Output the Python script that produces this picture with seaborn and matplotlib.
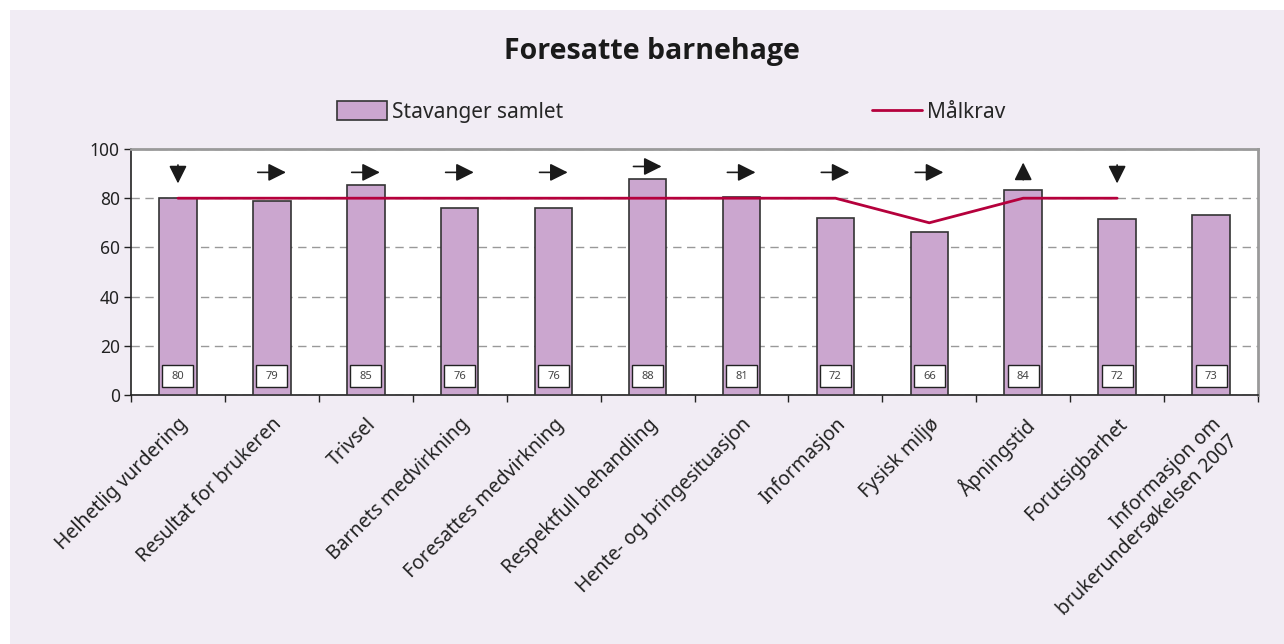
import numpy as np
import pandas as pd
import matplotlib
matplotlib.use("Agg")
import matplotlib.pyplot as plt
import seaborn as sns
from matplotlib.patches import Patch, Rectangle
from matplotlib.lines import Line2D

# Data
categories = ['Helhetlig vurdering', 'Resultat for brukeren', 'Trivsel',
              'Barnets medvirkning', 'Foresattes medvirkning',
              'Respektfull behandling', 'Hente- og bringesituasjon',
              'Informasjon', 'Fysisk miljø', 'Åpningstid', 'Forutsigbarhet',
              'Informasjon om\nbrukerundersøkelsen 2007']
stavanger = [79.9, 78.7, 85.5, 76.0, 76.2, 87.9, 80.6, 72.1, 66.1, 83.5, 71.7, 73.2]
labels = [80, 79, 85, 76, 76, 88, 81, 72, 66, 84, 72, 73]
malkrav = [80, 80, 80, 80, 80, 80, 80, 80, 70, 80, 80, None]
trend = ['down', 'right', 'right', 'right', 'right', 'right', 'right',
         'right', 'right', 'up', 'down', None]

bg = '#F1ECF4'
bar_color = '#CBA6CF'
line_color = '#B5003C'

sns.set_theme(style='white')
plt.rcParams['font.family'] = ['Noto Sans', 'DejaVu Sans']

fig = plt.figure(figsize=(12.84, 6.44), dpi=100)
fig.patch.set_facecolor('white')
# lavender panel, white margin top/left
fig.patches.append(plt.Rectangle((10 / 1284, 0), 1, 1 - 10 / 644,
                                 transform=fig.transFigure, facecolor=bg,
                                 edgecolor='none', zorder=-10))

ax = fig.add_axes([131 / 1284, 1 - 395 / 644, (1258 - 131) / 1284, (395 - 149) / 644])
ax.set_facecolor('white')

df = pd.DataFrame({'kategori': categories, 'verdi': stavanger})
sns.barplot(data=df, x='kategori', y='verdi', color=bar_color, width=0.4,
            edgecolor='#333333', linewidth=1.2, saturation=1, ax=ax, zorder=3)

x = np.arange(len(categories))
mk = np.array([np.nan if v is None else v for v in malkrav], dtype=float)
ax.plot(x, mk, color=line_color, lw=2, zorder=4)

# value boxes
box_w, box_h, box_y = 0.33, 8.9, 7.7
for xi, lab in zip(x, labels):
    ax.add_patch(Rectangle((xi - box_w / 2, box_y - box_h / 2), box_w, box_h,
                           facecolor='white', edgecolor='#222222', lw=1,
                           zorder=5))
    ax.text(xi, box_y, str(lab), ha='center', va='center', fontsize=8,
            color='#444444', zorder=6)

# trend arrows
for xi, v, d in zip(x, stavanger, trend):
    if d is None:
        continue
    y = max(90.5, v + 5)
    props = dict(arrowstyle='-|>,head_length=0.9,head_width=0.45',
                 color='#1a1a1a', lw=1.2, shrinkA=0, shrinkB=0)
    if d == 'right':
        ax.annotate('', xy=(xi + 0.15, y), xytext=(xi - 0.15, y),
                    arrowprops=props, zorder=6)
    elif d == 'up':
        ax.annotate('', xy=(xi, y + 4), xytext=(xi, y - 3),
                    arrowprops=props, zorder=6)
    else:
        ax.annotate('', xy=(xi, y - 4.5), xytext=(xi, y + 3),
                    arrowprops=props, zorder=6)

ax.set_ylim(0, 100)
ax.set_xlim(-0.5, len(categories) - 0.5)
ax.set_yticks([0, 20, 40, 60, 80, 100])
ax.yaxis.grid(True, linestyle=(0, (6, 4)), color='#999999', lw=1)
ax.set_axisbelow(True)
ax.set_xlabel('')
ax.set_ylabel('')

ax.set_xticks(x)
ax.set_xticklabels(categories, rotation=45, ha='right', rotation_mode='anchor',
                   fontsize=14, color='#222222', multialignment='right')
ax.set_xticks(np.arange(-0.5, len(categories)), minor=True)
ax.tick_params(axis='x', which='major', length=0, pad=14)
ax.tick_params(axis='x', which='minor', length=5, width=1, color='#222222',
               direction='out', bottom=True)
ax.tick_params(axis='y', length=5, width=1, color='#222222', direction='out',
               left=True, labelsize=12.5, labelcolor='#222222', pad=3)

for side in ['left', 'bottom']:
    ax.spines[side].set_color('#222222')
    ax.spines[side].set_linewidth(1.2)
for side in ['top', 'right']:
    ax.spines[side].set_color('#9a9a9a')
    ax.spines[side].set_linewidth(2)

fig.text(652 / 1284, 1 - 52 / 644, 'Foresatte barnehage', ha='center',
         va='center', fontsize=20.5, fontweight='bold', color='#1a1a1a',
         family=['Open Sans', 'DejaVu Sans'])

h1 = Patch(facecolor=bar_color, edgecolor='#333333', linewidth=1.2,
           label='Stavanger samlet')
h2 = Line2D([], [], color=line_color, lw=2, label='Målkrav')
fig.legend(handles=[h1], loc='center left',
           bbox_to_anchor=(318 / 1284, 1 - 112 / 644),
           frameon=False, fontsize=15, handlelength=2.4,
           handleheight=1.0, handletextpad=0.25)
fig.legend(handles=[h2], loc='center left',
           bbox_to_anchor=(853 / 1284, 1 - 112 / 644),
           frameon=False, fontsize=15, handlelength=2.4,
           handletextpad=0.25)

fig.savefig('out.png', dpi=100, facecolor=fig.get_facecolor())
